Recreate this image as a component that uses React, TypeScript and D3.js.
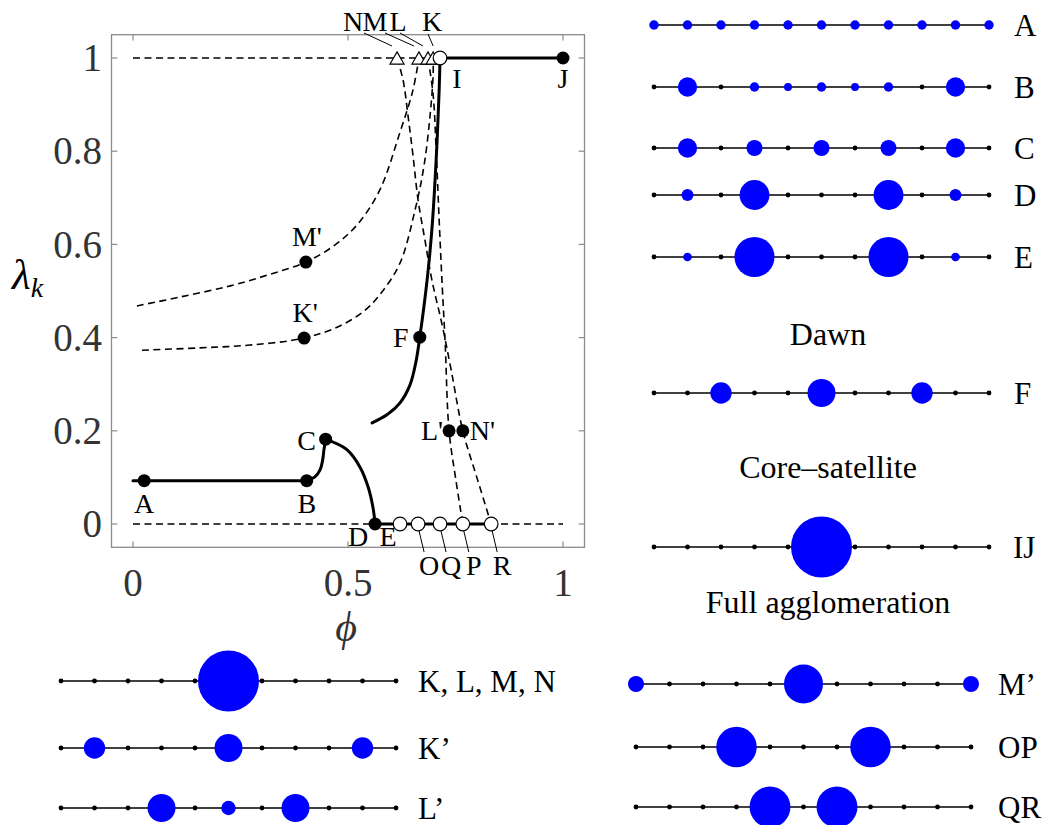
import React from 'react';
import * as d3 from 'd3';

type Pt = [number, number];

// ---------- bifurcation diagram data (phi, lambda_k) ----------
const xTicks = [0, 0.5, 1];
const yTicks = [0, 0.2, 0.4, 0.6, 0.8, 1];

// stable branches (solid)
const branchAB: Pt[] = [[0, 0.093], [0.404, 0.093]];
const branchBC: Pt[] = [[0.404, 0.093], [0.423, 0.101], [0.435, 0.116], [0.441, 0.137], [0.444, 0.159], [0.448, 0.182]];
const branchCD: Pt[] = [[0.448, 0.182], [0.465, 0.176], [0.498, 0.159], [0.528, 0.122], [0.547, 0.079], [0.558, 0.036], [0.563, 0]];
const branchZero: Pt[] = [[0.563, 0], [0.833, 0]];
const branchCore: Pt[] = [[0.556, 0.217], [0.593, 0.236], [0.621, 0.26], [0.644, 0.298], [0.658, 0.348], [0.667, 0.401], [0.684, 0.524], [0.695, 0.631], [0.705, 0.781], [0.712, 0.931], [0.714, 1]];
const branchFull: Pt[] = [[0.714, 1], [1, 1]];

// unstable branches (dashed)
const dashedTop: Pt[] = [[0, 1], [0.714, 1]];
const dashedZero: Pt[] = [[0, 0], [1, 0]];
const pathM: Pt[] = [[0.009, 0.468], [0.109, 0.487], [0.226, 0.511], [0.319, 0.536], [0.402, 0.562], [0.47, 0.599], [0.523, 0.644], [0.574, 0.717], [0.621, 0.841], [0.651, 0.931], [0.665, 1]];
const pathK: Pt[] = [[0.021, 0.373], [0.156, 0.378], [0.272, 0.384], [0.398, 0.399], [0.481, 0.425], [0.54, 0.459], [0.579, 0.498], [0.621, 0.56], [0.656, 0.674], [0.677, 0.77], [0.691, 0.878], [0.698, 0.964], [0.698, 1]];
const pathL: Pt[] = [[0.686, 1], [0.698, 0.921], [0.705, 0.803], [0.712, 0.652], [0.719, 0.513], [0.726, 0.388], [0.735, 0.2], [0.751, 0.094], [0.767, 0]];
const pathN: Pt[] = [[0.614, 1], [0.628, 0.953], [0.64, 0.873], [0.651, 0.792], [0.663, 0.695], [0.679, 0.609], [0.695, 0.524], [0.719, 0.427], [0.74, 0.33], [0.767, 0.2], [0.8, 0.099], [0.833, 0]];

// marked states
const filledNames = ['A', 'B', 'C', 'D', 'F', 'J', "M'", "K'", "L'", "N'"];
const filledPhi = [0.026, 0.404, 0.448, 0.563, 0.667, 1, 0.402, 0.398, 0.735, 0.767];
const filledLam = [0.093, 0.093, 0.182, 0, 0.401, 1, 0.562, 0.399, 0.2, 0.2];

const openNames = ['E', 'O', 'Q', 'P', 'R', 'I'];
const openPhi = [0.621, 0.663, 0.714, 0.767, 0.833, 0.714];
const openLam = [0, 0, 0, 0, 0, 1];

const triNames = ['N', 'M', 'L', 'K'];
const triPhi = [0.614, 0.665, 0.686, 0.698];
const triLam = [1, 1, 1, 1];

// ---------- spatial configurations (population share per location) ----------
const chainA = [0.024, 0.024, 0.024, 0.024, 0.024, 0.024, 0.024, 0.024, 0.024, 0.024, 0.024];
const chainB = [0, 0.1, 0, 0.024, 0.017, 0.024, 0.017, 0.024, 0, 0.1, 0];
const chainC = [0, 0.1, 0, 0.069, 0, 0.069, 0, 0.069, 0, 0.1, 0];
const chainD = [0, 0.039, 0, 0.24, 0, 0, 0, 0.24, 0, 0.039, 0];
const chainE = [0, 0.02, 0, 0.43, 0, 0, 0, 0.43, 0, 0.02, 0];
const chainF = [0, 0, 0.123, 0, 0, 0.21, 0, 0, 0.123, 0, 0];
const chainIJ = [0, 0, 0, 0, 0, 1, 0, 0, 0, 0, 0];
const chainKLMN = [0, 0, 0, 0, 0, 1, 0, 0, 0, 0, 0];
const chainK2 = [0, 0.123, 0, 0, 0, 0.21, 0, 0, 0, 0.123, 0];
const chainL2 = [0, 0, 0, 0.21, 0, 0.056, 0, 0.21, 0, 0, 0];
const chainM2 = [0.069, 0, 0, 0, 0, 0.41, 0, 0, 0, 0, 0.069];
const chainOP = [0, 0, 0, 0.44, 0, 0, 0, 0.44, 0, 0, 0];
const chainQR = [0, 0, 0, 0, 0.45, 0, 0.45, 0, 0, 0, 0];

const SERIF = '"Liberation Serif", "DejaVu Serif", serif';
const LABEL_SIZE = 28;

// label offsets relative to their marker (dx, dy, anchor)
const labelLayout: Record<string, [number, number, string]> = {
  A: [0, 32, 'middle'],
  B: [0, 32, 'middle'],
  C: [-19, 11, 'middle'],
  D: [-17, 22, 'middle'],
  E: [-12, 22, 'middle'],
  F: [-19, 10, 'middle'],
  I: [17, 30, 'middle'],
  J: [0, 30, 'middle'],
  "M'": [1, -16, 'middle'],
  "K'": [1, -16, 'middle'],
  "L'": [-6, 9, 'end'],
  "N'": [7, 9, 'start'],
};

function Chain({ x0, y, shares, label, labelX }: { x0: number; y: number; shares: number[]; label: string; labelX: number }) {
  const xs = d3.scaleLinear().domain([0, shares.length - 1]).range([x0, x0 + 33.5 * (shares.length - 1)]);
  const r = d3.scaleSqrt().domain([0, 1]).range([0, 30.5]);
  return (
    <g>
      <line x1={xs(0)} x2={xs(shares.length - 1)} y1={y} y2={y} stroke="#000" strokeWidth={1.4} />
      {shares.map((s, i) =>
        s > 0 ? (
          <circle key={i} cx={xs(i)} cy={y} r={r(s)} fill="#0000ff" />
        ) : (
          <circle key={i} cx={xs(i)} cy={y} r={2.4} fill="#000" />
        )
      )}
      <text x={labelX} y={y} dy="0.34em" fontFamily={SERIF} fontSize={31} fill="#000">
        {label}
      </text>
    </g>
  );
}

export default function App() {
  const x = d3.scaleLinear().domain([-0.05, 1.05]).range([111.5, 584.5]);
  const y = d3.scaleLinear().domain([-0.05, 1.05]).range([547.3, 34.7]);
  const smooth = d3.line<Pt>().x((d) => x(d[0])).y((d) => y(d[1])).curve(d3.curveCatmullRom.alpha(0.5));
  const straight = d3.line<Pt>().x((d) => x(d[0])).y((d) => y(d[1]));
  const tri = d3.symbol().type(d3.symbolTriangle).size(85)() as string;

  const frameColor = '#8a8a8a';
  const tickColor = '#333';

  const solidPaths = [straight(branchAB), smooth(branchBC), smooth(branchCD), straight(branchZero), smooth(branchCore), straight(branchFull)];
  const dashedPaths = [straight(dashedTop), straight(dashedZero), smooth(pathM), smooth(pathK), smooth(pathL), smooth(pathN)];

  // leader lines for labels of the triangle states
  const triLabelX = [353, 375, 398, 432];
  const leaderStart: Pt[] = [[364, 33], [385, 33], [400, 33], [428, 34]];

  // leader lines below the axis for O, Q, P, R
  const lowNames = ['O', 'Q', 'P', 'R'];

  return (
    <svg width={1045} height={825} style={{ position: 'absolute', left: 0, top: 0, background: '#fff' }}>
      {/* frame */}
      <rect x={111.5} y={34.7} width={473} height={512.6} fill="none" stroke={frameColor} strokeWidth={1.3} />
      {xTicks.map((t) => (
        <g key={'xt' + t}>
          <line x1={x(t)} x2={x(t)} y1={547.3} y2={541.5} stroke={frameColor} strokeWidth={1.2} />
          <line x1={x(t)} x2={x(t)} y1={34.7} y2={40.5} stroke={frameColor} strokeWidth={1.2} />
          <text x={x(t)} y={596} textAnchor="middle" fontFamily={SERIF} fontSize={39} fill={tickColor}>
            {String(t)}
          </text>
        </g>
      ))}
      {yTicks.map((t) => (
        <g key={'yt' + t}>
          <line x1={111.5} x2={117.3} y1={y(t)} y2={y(t)} stroke={frameColor} strokeWidth={1.2} />
          <line x1={584.5} x2={578.7} y1={y(t)} y2={y(t)} stroke={frameColor} strokeWidth={1.2} />
          <text x={102} y={y(t)} dy="0.34em" textAnchor="end" fontFamily={SERIF} fontSize={39} fill={tickColor}>
            {String(t)}
          </text>
        </g>
      ))}
      {/* axis titles */}
      <text x={12} y={289} fontFamily={SERIF} fontStyle="italic" fontSize={43} fill="#000">
        λ<tspan fontSize={28} dy={8}>k</tspan>
      </text>
      <text x={346} y={641} textAnchor="middle" fontFamily={SERIF} fontStyle="italic" fontSize={42} fill="#333">
        ϕ
      </text>

      {/* unstable branches */}
      {dashedPaths.map((d, i) => (
        <path key={'d' + i} d={d || ''} fill="none" stroke="#000" strokeWidth={1.6} strokeDasharray="7,4.5" />
      ))}
      {/* stable branches */}
      {solidPaths.map((d, i) => (
        <path key={'s' + i} d={d || ''} fill="none" stroke="#000" strokeWidth={3} strokeLinecap="round" />
      ))}

      {/* triangle states with leader lines */}
      {triNames.map((n, i) => (
        <g key={'tri' + n}>
          <line x1={leaderStart[i][0]} y1={leaderStart[i][1]} x2={x(triPhi[i]) - 5 + (i === 3 ? 5 : 0)} y2={46} stroke="#000" strokeWidth={1} />
          <path d={tri} transform={`translate(${x(triPhi[i])},${y(triLam[i]) + 2})`} fill="#fff" stroke="#000" strokeWidth={1.2} />
          <text x={triLabelX[i]} y={31} textAnchor="middle" fontFamily={SERIF} fontSize={LABEL_SIZE} fill="#000">
            {n}
          </text>
        </g>
      ))}

      {/* open (unstable) states */}
      {openNames.map((n, i) => (
        <circle key={'o' + n} cx={x(openPhi[i])} cy={y(openLam[i])} r={6.8} fill="#fff" stroke="#000" strokeWidth={1.2} />
      ))}
      {lowNames.map((n) => {
        const i = openNames.indexOf(n);
        const cx = x(openPhi[i]);
        return (
          <g key={'low' + n}>
            <line x1={cx + 1} y1={y(0) + 7} x2={cx + 6} y2={552} stroke="#000" strokeWidth={1} />
            <text x={cx + 11} y={575} textAnchor="middle" fontFamily={SERIF} fontSize={LABEL_SIZE} fill="#000">
              {n}
            </text>
          </g>
        );
      })}

      {/* filled (stable) states */}
      {filledNames.map((n, i) => (
        <circle key={'f' + n} cx={x(filledPhi[i])} cy={y(filledLam[i])} r={6.5} fill="#000" />
      ))}

      {/* point labels */}
      {[...filledNames, ...openNames.filter((n) => labelLayout[n])].map((n) => {
        let px: number, py: number;
        const fi = filledNames.indexOf(n);
        if (fi >= 0) {
          px = x(filledPhi[fi]);
          py = y(filledLam[fi]);
        } else {
          const oi = openNames.indexOf(n);
          px = x(openPhi[oi]);
          py = y(openLam[oi]);
        }
        const [dx, dy, anchor] = labelLayout[n];
        return (
          <text key={'lab' + n} x={px + dx} y={py + dy} textAnchor={anchor as any} fontFamily={SERIF} fontSize={LABEL_SIZE} fill="#000">
            {n}
          </text>
        );
      })}

      {/* spatial patterns, right column */}
      <Chain x0={654} y={25} shares={chainA} label="A" labelX={1014} />
      <Chain x0={654} y={87} shares={chainB} label="B" labelX={1014} />
      <Chain x0={654} y={148} shares={chainC} label="C" labelX={1014} />
      <Chain x0={654} y={195} shares={chainD} label="D" labelX={1014} />
      <Chain x0={654} y={257} shares={chainE} label="E" labelX={1014} />
      <text x={828} y={345} textAnchor="middle" fontFamily={SERIF} fontSize={32} fill="#000">Dawn</text>
      <Chain x0={654} y={393} shares={chainF} label="F" labelX={1014} />
      <text x={828} y={478} textAnchor="middle" fontFamily={SERIF} fontSize={32} fill="#000">Core–satellite</text>
      <Chain x0={654} y={547} shares={chainIJ} label="IJ" labelX={1013} />
      <text x={828} y={613} textAnchor="middle" fontFamily={SERIF} fontSize={32} fill="#000">Full agglomeration</text>

      {/* spatial patterns, bottom left */}
      <Chain x0={61} y={681} shares={chainKLMN} label="K, L, M, N" labelX={418} />
      <Chain x0={61} y={748} shares={chainK2} label="K’" labelX={418} />
      <Chain x0={61} y={808} shares={chainL2} label="L’" labelX={418} />

      {/* spatial patterns, bottom right */}
      <Chain x0={636} y={684} shares={chainM2} label="M’" labelX={998} />
      <Chain x0={636} y={747} shares={chainOP} label="OP" labelX={998} />
      <Chain x0={636} y={807} shares={chainQR} label="QR" labelX={998} />
    </svg>
  );
}
